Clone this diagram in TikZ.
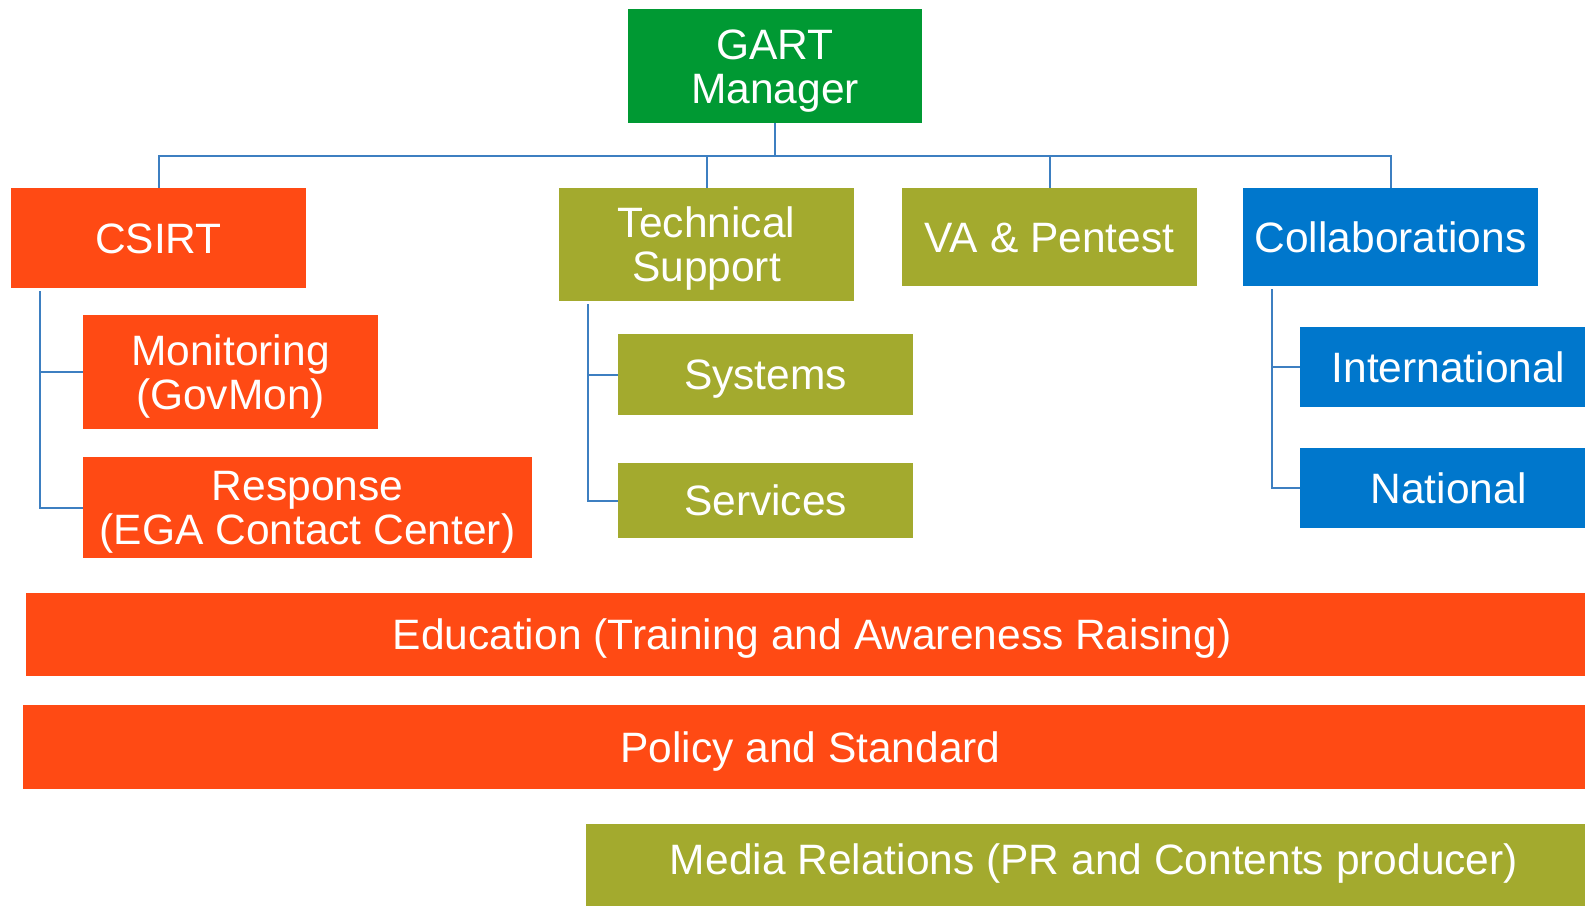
\documentclass[tikz,border=0pt]{standalone}
\usepackage{fontspec}
\setmainfont{Liberation Sans}
\definecolor{cOrange}{RGB}{255,74,20}
\definecolor{cOlive}{RGB}{163,170,46}
\definecolor{cBlue}{RGB}{0,119,204}
\definecolor{cGreen}{RGB}{0,153,51}
\definecolor{cLine}{RGB}{61,127,193}
\tikzset{
  box/.style={rectangle, inner sep=0pt, text=white,
    font=\fontsize{42.5}{44}\selectfont, align=center,
    text height=30.4pt, text depth=0pt},
  twoline/.style={text height=74.4pt, text depth=0pt},
  conn/.style={draw=cLine, line width=2pt},
}
\begin{document}
\begin{tikzpicture}[x=1pt, y=-1pt]
\useasboundingbox (0,0) rectangle (1585,905);
\clip (0,0) rectangle (1585,905);
% top level
\node[box, twoline, fill=cGreen, minimum width=294pt, minimum height=114pt] (mgr) at (775,66) {GART\\Manager};
\node[box, fill=cOrange, minimum width=295pt, minimum height=100pt] (csirt) at (158.5,238) {CSIRT};
\node[box, twoline, fill=cOlive, minimum width=295pt, minimum height=113pt] (ts) at (706.5,244.5) {Technical\\Support};
\node[box, fill=cOlive, minimum width=295pt, minimum height=98pt] (va) at (1049.5,237) {VA \& Pentest};
\node[box, fill=cBlue, minimum width=295pt, minimum height=98pt] (collab) at (1390.5,237) {Collaborations};
% CSIRT children
\node[box, twoline, fill=cOrange, minimum width=295pt, minimum height=114pt] (mon) at (230.5,372) {Monitoring\\(GovMon)};
\node[box, twoline, fill=cOrange, minimum width=449pt, minimum height=101pt] (resp) at (307.5,507.5) {Response\\(EGA Contact Center)};
% Technical support children
\node[box, fill=cOlive, minimum width=295pt, minimum height=81pt] (sys) at (765.5,374.5) {Systems};
\node[box, fill=cOlive, minimum width=295pt, minimum height=75pt] (serv) at (765.5,500.5) {Services};
% Collaborations children
\node[box, fill=cBlue, minimum width=297pt, minimum height=80pt] (intl) at (1448.5,367) {International};
\node[box, fill=cBlue, minimum width=297pt, minimum height=80pt] (nat) at (1448.5,488) {National};
% bars
\node[box, fill=cOrange, minimum width=1572pt, minimum height=83pt] (edu) at (812,634.5) {Education (Training and Awareness Raising)};
\node[box, fill=cOrange, minimum width=1575pt, minimum height=84pt] (pol) at (810.5,747) {Policy and Standard};
\node[box, fill=cOlive, minimum width=1016pt, minimum height=84pt, text depth=14pt] (media) at (1094,866) {Media Relations (PR and Contents producer)};
% connectors
\coordinate (busY) at (0,155.7);
\draw[conn] (mgr.south) -- (mgr.south |- busY);
\draw[conn] (csirt.north) -- (csirt.north |- busY) -- (collab.north |- busY) -- (collab.north);
\draw[conn] (ts.north) -- (ts.north |- busY);
\draw[conn] (va.north) -- (va.north |- busY);
\coordinate (cs) at ([xshift=29pt, yshift=-3pt]csirt.south west);
\draw[conn] (cs) |- (mon.west);
\draw[conn] (cs) |- (resp.west);
\coordinate (tsc) at ([xshift=29pt, yshift=-3pt]ts.south west);
\draw[conn] (tsc) |- (sys.west);
\draw[conn] (tsc) |- (serv.west);
\coordinate (cc) at ([xshift=29pt, yshift=-3pt]collab.south west);
\draw[conn] (cc) |- (intl.west);
\draw[conn] (cc) |- (nat.west);
\end{tikzpicture}
\end{document}
